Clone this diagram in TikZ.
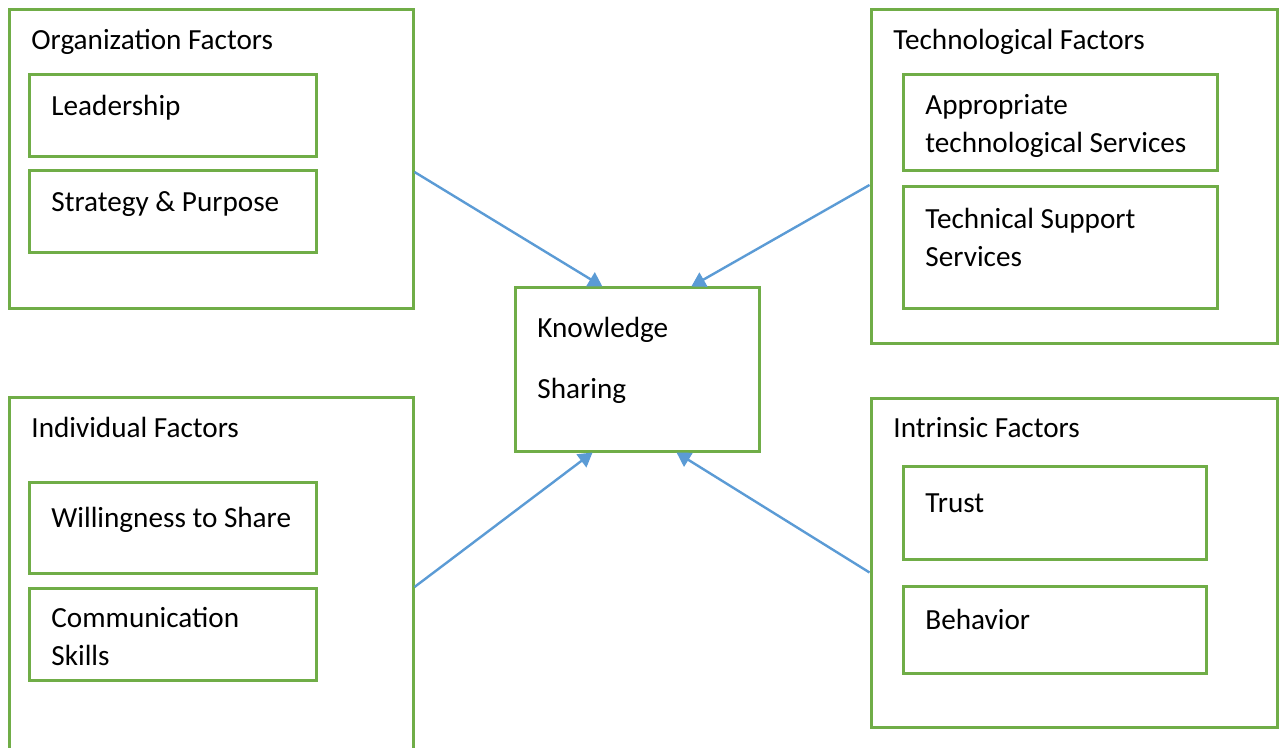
\documentclass[tikz,border=0pt]{standalone}
\usepackage{fontspec}
\setmainfont{Carlito}
\usetikzlibrary{arrows.meta,calc,fit}
\definecolor{leaf}{HTML}{70AD47}
\definecolor{sky}{HTML}{5B9BD5}

\begin{document}
\begin{tikzpicture}[x=0.5pt,y=-0.5pt,>={Triangle[length=7pt,width=8pt]},
 frame/.style={draw=leaf,line width=1.5pt,inner sep=0pt},
 txt/.style={anchor=base west,inner sep=0pt,align=left,font=\fontsize{14.6}{19}\selectfont},
 link/.style={->,draw=sky,line width=1.2pt}]
\useasboundingbox (0,0) rectangle (1283,748);
% outer groups
\node[frame,fit={(9,10) (413,309)}] (org) {};
\node[frame,fit={(871,10) (1277,343)}] (tech) {};
\node[frame,fit={(9,397) (413,760)}] (ind) {};
\node[frame,fit={(871,398) (1277,727)}] (intr) {};
\node[frame,fit={(515,288) (759,451)}] (ks) {};
% inner factors
\node[frame,fit={(29,75) (316,157)}] (lead) {};
\node[frame,fit={(29,171) (316,253)}] (strat) {};
\node[frame,fit={(903,75) (1217,171)}] (serv) {};
\node[frame,fit={(903,187) (1217,309)}] (supp) {};
\node[frame,fit={(29,482) (316,573)}] (will) {};
\node[frame,fit={(29,588) (316,680)}] (comm) {};
\node[frame,fit={(903,466) (1206,559)}] (trust) {};
\node[frame,fit={(903,586) (1206,673)}] (behav) {};
% labels (multi-line ones sit on their last baseline)
\node[txt] (orgtxt) at (31,50) {Organization Factors};
\node[txt] (leadtxt) at (51,116) {Leadership};
\node[txt] (strattxt) at (51,212) {Strategy \& Purpose};
\node[txt] (techtxt) at (893,50) {Technological Factors};
\node[txt] (servtxt) at (925,153) {Appropriate\\technological Services};
\node[txt] (supptxt) at (925,267) {Technical Support\\Services};
\node[txt] (kstxt) at (537,398) {Knowledge\\[11.5pt]Sharing};
\node[txt] (indtxt) at (31,437) {Individual Factors};
\node[txt] (willtxt) at (51,527) {Willingness to Share};
\node[txt] (commtxt) at (51,665) {Communication\\Skills};
\node[txt] (intrtxt) at (893,437) {Intrinsic Factors};
\node[txt] (trusttxt) at (925,512) {Trust};
\node[txt] (behavtxt) at (925,629) {Behavior};
% influences on knowledge sharing
\draw[link] ([yshift=-6.25pt]org.east) -- ($(ks.north west)!0.36!(ks.north east)$);
\draw[link] ([yshift=-4.25pt]tech.west) -- ($(ks.north west)!0.72!(ks.north east)$);
\draw[link] ([yshift=-4.25pt]ind.east) -- ($(ks.south west)!0.32!(ks.south east)$);
\draw[link] ([yshift=-5pt]intr.west) -- ($(ks.south west)!0.66!(ks.south east)$);
\end{tikzpicture}
\end{document}
